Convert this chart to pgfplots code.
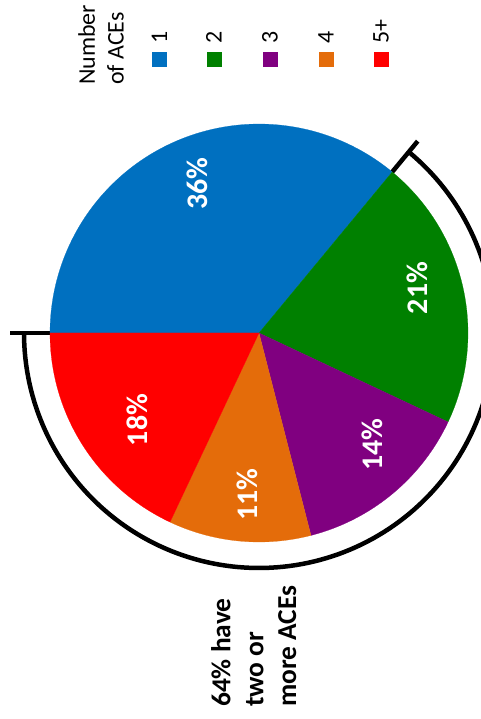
\documentclass[border=0pt]{standalone}
\usepackage{pgfplots}
\usepackage{pgfplotstable}
\usepackage{fontspec}
\setmainfont{Carlito}
\pgfplotsset{compat=1.18}
\usepgfplotslibrary{polar}
\definecolor{cblue}{RGB}{0,112,192}
\definecolor{cgreen}{RGB}{0,128,0}
\definecolor{cpurple}{RGB}{128,0,128}
\definecolor{corange}{RGB}{228,108,10}
\definecolor{cred}{RGB}{255,0,0}
\pgfplotstableread{
aces pct col
1 36 cblue
2 21 cgreen
3 14 cpurple
4 11 corange
5+ 18 cred
}\acedata
\newcommand{\legkey}[2]{\textcolor{#1}{\rule{15bp}{15bp}}\hspace{8bp}#2}
\begin{document}
\begin{tikzpicture}
\path[use as bounding box] (0bp,0bp) rectangle (481bp,719bp);
\begin{polaraxis}[
  hide axis, scale only axis, width=500bp, height=500bp,
  xmin=0, xmax=360, ymin=0, ymax=250, clip=false,
  at={(259bp,386bp)}, anchor=origin,
]
% bracket
\addplot[forget plot, black, line width=4.5bp, domain=-180:50.4, samples=150] {235};
\addplot[forget plot, black, line width=4.5bp] coordinates {(50.4,209) (50.4,249)};
\addplot[forget plot, black, line width=4.5bp] coordinates {(180,209) (180,249)};
% slices
\def\cum{0}
\pgfplotsforeachungrouped \i in {0,...,4}{%
  \pgfplotstablegetelem{\i}{pct}\of\acedata \let\p=\pgfplotsretval
  \pgfplotstablegetelem{\i}{col}\of\acedata \let\c=\pgfplotsretval
  \pgfmathsetmacro\sa{180-3.6*\cum}%
  \pgfmathsetmacro\cum{\cum+\p}%
  \pgfmathsetmacro\ea{180-3.6*\cum}%
  \edef\tmp{\noexpand\addplot[forget plot, fill=\c, draw=\c, line width=0.2bp, domain=\ea:\sa, samples=90] {209} -- (axis cs:0,0) -- cycle;}%
  \tmp
}
% labels
\begin{scope}[every node/.style={text=white, font=\fontsize{30}{36}\selectfont\bfseries, rotate=90, anchor=center}]
\node at (axis cs:112.5,162) {36\%};
\node at (axis cs:15.8,165) {21\%};
\node at (axis cs:-44.7,159) {14\%};
\node at (axis cs:-94.2,162) {11\%};
\node at (axis cs:-144.5,150) {18\%};
\end{scope}
\end{polaraxis}
% legend
\node[rotate=90, anchor=north west, inner sep=0pt, align=left, font=\fontsize{24}{29}\selectfont] at (78bp,634bp) {Number\\of ACEs};
\begin{scope}[every node/.style={rotate=90, anchor=base west, inner sep=0pt, font=\fontsize{24}{29}\selectfont}]
\node at (167bp,652bp) {\legkey{cblue}{1}};
\node at (221.5bp,652bp) {\legkey{cgreen}{2}};
\node at (277.5bp,652bp) {\legkey{cpurple}{3}};
\node at (333.5bp,652bp) {\legkey{corange}{4}};
\node at (388.5bp,652bp) {\legkey{cred}{5+}};
\end{scope}
\node[rotate=90, anchor=north west, inner sep=0pt, align=left, font=\fontsize{27.5}{33}\selectfont\bfseries] at (211bp,12bp) {64\% have\\two or\\more ACEs};
\end{tikzpicture}
\end{document}
